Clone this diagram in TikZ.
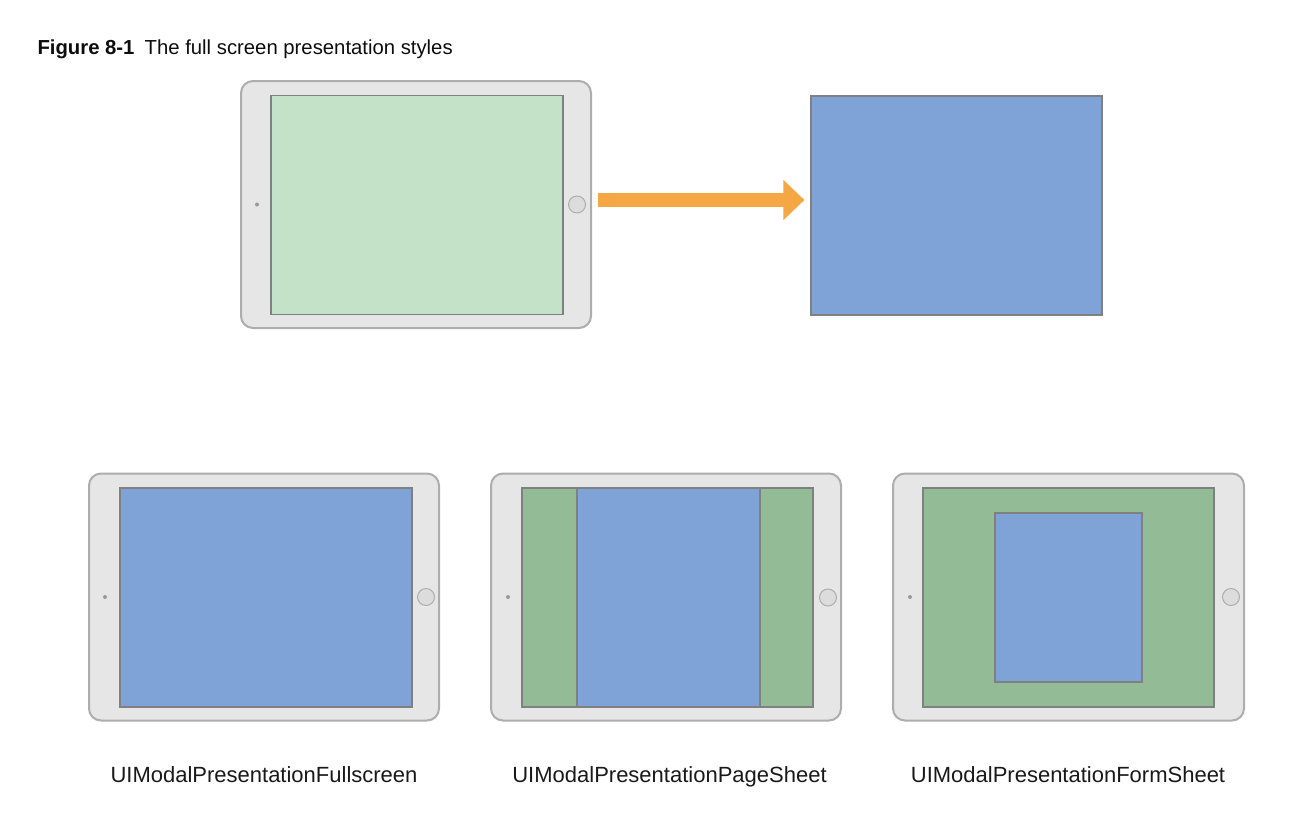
\documentclass[tikz,border=0pt]{standalone}
\usepackage{fontspec}
\setmainfont{Liberation Sans}
\usetikzlibrary{arrows.meta}
\definecolor{padgray}{HTML}{E6E6E6}
\definecolor{padedge}{HTML}{ADADAD}
\definecolor{screenedge}{HTML}{808080}
\definecolor{lightgreen}{HTML}{C4E2C7}
\definecolor{darkgreen}{HTML}{93BB96}
\definecolor{sheetblue}{HTML}{7FA3D7}
\definecolor{arroworange}{HTML}{F4A742}
\definecolor{buttongray}{HTML}{DCDCDC}

\begin{document}
\begin{tikzpicture}[x=1pt, y=-1pt,
  pad/.style={fill=padgray, draw=padedge, line width=2pt, rounded corners=12pt, minimum width=350pt, minimum height=247pt, inner sep=0pt},
  screen/.style={draw=screenedge, line width=1.2pt, minimum width=292pt, minimum height=219pt, inner sep=0pt},
  homebutton/.style={circle, fill=buttongray, draw=padedge, line width=1pt, minimum size=17pt, inner sep=0pt},
  camera/.style={circle, fill=black!40, minimum size=4pt, inner sep=0pt},
  caption/.style={font=\fontsize{22}{26}\selectfont, text=black!90, anchor=base}]
\useasboundingbox (0,0) rectangle (1298,820);

\node[anchor=base west, font=\fontsize{20.3}{24}\selectfont, text=black!95] (title) at (34,54.5) {\textbf{Figure 8-1}\hspace{0.5em}The full screen presentation styles};

% presenting
\node[pad] (padA) at (416,204.5) {};
\node[screen, fill=lightgreen] (screenA) at (417,205) {};
\node[homebutton] (buttonA) at (577,204.5) {};
\node[camera] (cameraA) at (257,204.5) {};

\node[screen, fill=sheetblue, minimum width=291pt] (full) at (956.5,205.5) {};
\draw[arroworange, line width=14pt, -{Triangle[length=21pt, width=39pt]}, shorten <=6pt, shorten >=6pt] ([yshift=4.5pt]padA.east) -- ([yshift=4.5pt]padA.east -| full.west);

% fullscreen
\node[pad] (padB) at (264,597) {};
\node[screen, fill=sheetblue] (screenB) at (266,597.5) {};
\node[homebutton] (buttonB) at (426,597) {};
\node[camera] (cameraB) at (105,597) {};
\node[caption] (labelB) at (264,782) {UIModalPresentationFullscreen};

% page sheet
\node[pad] (padC) at (264+402,597) {};
\node[screen, fill=darkgreen, minimum width=291pt] (screenC) at (667.5,597.5) {};
\node[screen, fill=sheetblue, minimum width=183pt] (sheetC) at (668.5,597.5) {};
\node[homebutton] (buttonC) at (426+402,597.5) {};
\node[camera] (cameraC) at (105+403,597) {};
\node[caption] (labelC) at (669.5,782) {UIModalPresentationPageSheet};

% form sheet
\node[pad, minimum width=351pt] (padD) at (1068.5,597) {};
\node[screen, fill=darkgreen, minimum width=291pt] (screenD) at (1068.5,597.5) {};
\node[screen, fill=sheetblue, minimum width=147pt, minimum height=169pt] (sheetD) at (1068.5,597.5) {};
\node[homebutton] (buttonD) at (1231,597) {};
\node[camera] (cameraD) at (910,597) {};
\node[caption] (labelD) at (1068,782) {UIModalPresentationFormSheet};

\end{tikzpicture}
\end{document}
